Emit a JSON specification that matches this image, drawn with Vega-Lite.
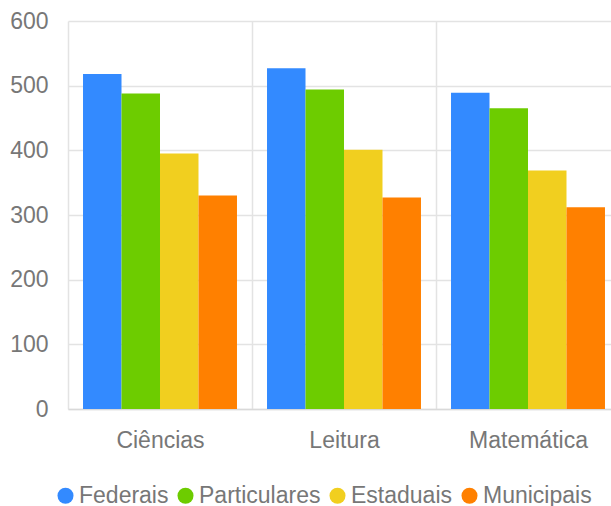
{
  "$schema": "https://vega.github.io/schema/vega-lite/v6.json",
  "width": 543,
  "height": 388,
  "autosize": {"type": "none"},
  "padding": {"left": 68, "top": 21, "right": 0, "bottom": 97},
  "background": "white",
  "data": {
    "values": [
      {"materia": "Ciências", "rede": "Federais", "valor": 518},
      {"materia": "Ciências", "rede": "Particulares", "valor": 488},
      {"materia": "Ciências", "rede": "Estaduais", "valor": 395},
      {"materia": "Ciências", "rede": "Municipais", "valor": 330},
      {"materia": "Leitura", "rede": "Federais", "valor": 527},
      {"materia": "Leitura", "rede": "Particulares", "valor": 494},
      {"materia": "Leitura", "rede": "Estaduais", "valor": 401},
      {"materia": "Leitura", "rede": "Municipais", "valor": 327},
      {"materia": "Matemática", "rede": "Federais", "valor": 489},
      {"materia": "Matemática", "rede": "Particulares", "valor": 465},
      {"materia": "Matemática", "rede": "Estaduais", "valor": 369},
      {"materia": "Matemática", "rede": "Municipais", "valor": 312}
    ]
  },
  "mark": {"type": "bar"},
  "encoding": {
    "x": {
      "field": "materia",
      "type": "nominal",
      "sort": ["Ciências", "Leitura", "Matemática"],
      "scale": {"range": [0, 552], "paddingInner": 0, "paddingOuter": 0},
      "axis": {
        "title": null,
        "labelAngle": 0,
        "tickBand": "extent",
        "grid": true,
        "gridColor": "#e3e3e3",
        "gridWidth": 1.5,
        "ticks": false,
        "domain": true,
        "domainColor": "#d9d9d9",
        "domainWidth": 1.5,
        "labelPadding": 20,
        "labelFont": "Liberation Sans",
        "labelFontSize": 23,
        "labelColor": "#777777"
      }
    },
    "xOffset": {
      "field": "rede",
      "sort": ["Federais", "Particulares", "Estaduais", "Municipais"],
      "scale": {"paddingInner": 0, "paddingOuter": 0.39}
    },
    "y": {
      "field": "valor",
      "type": "quantitative",
      "scale": {"domain": [0, 600], "nice": false},
      "axis": {
        "title": null,
        "values": [0, 100, 200, 300, 400, 500, 600],
        "ticks": false,
        "domain": false,
        "grid": true,
        "gridColor": "#e3e3e3",
        "gridWidth": 1.5,
        "labelPadding": 20,
        "labelFont": "Liberation Sans",
        "labelFontSize": 23,
        "labelColor": "#777777"
      }
    },
    "color": {
      "field": "rede",
      "type": "nominal",
      "sort": ["Federais", "Particulares", "Estaduais", "Municipais"],
      "scale": {
        "domain": ["Federais", "Particulares", "Estaduais", "Municipais"],
        "range": ["#338aff", "#6dcc00", "#f1cf1f", "#ff8000"]
      },
      "legend": {
        "orient": "none",
        "legendX": -14,
        "legendY": 463,
        "direction": "horizontal",
        "title": null,
        "symbolType": "circle",
        "symbolSize": 256,
        "symbolStrokeWidth": 0,
        "symbolOpacity": 1,
        "labelFont": "Liberation Sans",
        "labelFontSize": 23,
        "labelColor": "#777777",
        "labelOffset": 2,
        "columnPadding": 5
      }
    }
  },
  "config": {"view": {"stroke": null}}
}
